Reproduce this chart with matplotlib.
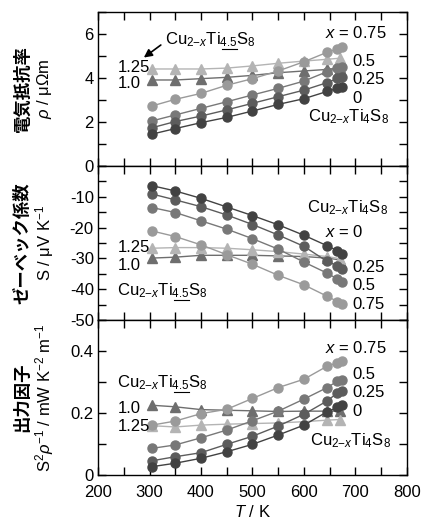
import matplotlib
matplotlib.use('Agg')
import matplotlib.pyplot as plt
from matplotlib.ticker import MultipleLocator
import numpy as np

plt.rcParams['font.family'] = ['Liberation Sans', 'DejaVu Sans']
plt.rcParams['mathtext.fontset'] = 'custom'
plt.rcParams['mathtext.rm'] = 'Liberation Sans'
plt.rcParams['mathtext.it'] = 'Liberation Sans:italic'
plt.rcParams['mathtext.bf'] = 'Liberation Sans:bold'
plt.rcParams['axes.unicode_minus'] = False

# temperatures (K)
T_circ = [305, 350, 400, 450, 500, 550, 600, 645, 665, 673]
T_tri = [305, 350, 400, 450, 500, 550, 600, 645, 670]

# Cu2-xTi4S8, x = 0, 0.25, 0.5, 0.75
circ_x = ['0', '0.25', '0.5', '0.75']
circ_colors = ['#424242', '#5c5c5c', '#787878', '#9a9a9a']
rho_circ = [
    [1.45, 1.70, 1.97, 2.21, 2.50, 2.80, 3.06, 3.39, 3.53, 3.58],
    [1.74, 2.02, 2.27, 2.55, 2.85, 3.15, 3.45, 3.79, 3.98, 4.03],
    [2.05, 2.32, 2.62, 2.92, 3.23, 3.53, 3.86, 4.29, 4.44, 4.52],
    [2.73, 3.03, 3.30, 3.67, 3.97, 4.32, 4.74, 5.17, 5.32, 5.42],
]
S_circ = [
    [-6.4, -8.1, -10.5, -13.3, -16.1, -19.1, -22.5, -25.9, -27.5, -28.6],
    [-9.1, -11.0, -13.2, -15.9, -19.0, -22.4, -26.1, -31.0, -32.4, -33.5],
    [-13.5, -15.1, -17.8, -20.5, -23.6, -27.0, -31.2, -34.8, -36.7, -37.7],
    [-21.1, -22.9, -25.6, -28.8, -31.9, -35.5, -38.6, -42.3, -44.0, -44.8],
]
PF_circ = [
    [0.027, 0.038, 0.054, 0.075, 0.099, 0.129, 0.161, 0.204, 0.218, 0.225],
    [0.046, 0.059, 0.072, 0.099, 0.125, 0.158, 0.196, 0.239, 0.265, 0.270],
    [0.086, 0.097, 0.120, 0.145, 0.175, 0.206, 0.245, 0.282, 0.303, 0.308],
    [0.161, 0.174, 0.198, 0.212, 0.247, 0.282, 0.309, 0.351, 0.362, 0.368],
]

# Cu2-xTi4.5S8, x = 1.0, 1.25
tri_x = ['1.0', '1.25']
tri_colors = ['#6e6e6e', '#b4b4b4']
rho_tri = [
    [3.91, 3.91, 3.97, 4.03, 4.12, 4.24, 4.32, 4.39, 4.47],
    [4.41, 4.41, 4.41, 4.45, 4.55, 4.67, 4.77, 4.85, 4.90],
]
S_tri = [
    [-29.9, -29.6, -29.0, -29.0, -29.0, -29.2, -29.4, -29.9, -30.5],
    [-26.7, -26.5, -26.5, -26.7, -27.2, -27.8, -28.6, -29.4, -30.1],
]
PF_tri = [
    [0.225, 0.220, 0.211, 0.209, 0.207, 0.205, 0.206, 0.206, 0.206],
    [0.159, 0.155, 0.161, 0.164, 0.166, 0.168, 0.172, 0.177, 0.179],
]

jp_labels = ['電気抵抗率', 'ゼーベック係数', '出力因子']
unit_labels = [r'$\rho$ / μΩm', r'S / μV K$^{-1}$', r'S$^{2}\rho^{-1}$ / mW K$^{-2}$ m$^{-1}$']

PRE = r'Cu$_{2\mathrm{-}x}$Ti'
TI4 = PRE + r'$_{4}$S$_{8}$'
TI45 = PRE + r'$_{4.5}$S$_{8}$'
FS = 12

fig = plt.figure(figsize=(4.25, 5.22), dpi=100)
L, R = 0.2306, 0.9576
bounds = [(0.682, 0.977), (0.387, 0.682), (0.090, 0.387)]
axes = [fig.add_axes([L, b, R - L, t - b]) for b, t in bounds]

panel_data = [(rho_circ, rho_tri), (S_circ, S_tri), (PF_circ, PF_tri)]
ylims = [(0, 7), (-50, 0), (0, 0.5)]
ymaj = [2, 10, 0.2]
ymin = [1, 5, 0.1]

for i, ax in enumerate(axes):
    circ, tri = panel_data[i]
    for vals, col in zip(tri, tri_colors):
        ax.plot(T_tri, vals, '-^', color=col, mec=col, mfc=col, ms=6.5, lw=1.0)
    for vals, col in zip(circ[::-1], circ_colors[::-1]):
        ax.plot(T_circ, vals, '-o', color=col, mec=col, mfc=col, ms=6.5, lw=1.0)
    ax.set_xlim(200, 800)
    ax.set_ylim(*ylims[i])
    ax.xaxis.set_major_locator(MultipleLocator(100))
    ax.xaxis.set_minor_locator(MultipleLocator(50))
    ax.yaxis.set_major_locator(MultipleLocator(ymaj[i]))
    ax.yaxis.set_minor_locator(MultipleLocator(ymin[i]))
    ax.tick_params(which='both', direction='in', top=True, right=True, labelsize=FS, width=1.0)
    ax.tick_params(which='both', length=5.5)
    ax.tick_params(axis='y', pad=3)
    for sp in ax.spines.values():
        sp.set_linewidth(1.0)
    if i < 2:
        ax.tick_params(labelbottom=False)
    ax.text(-0.245, 0.5, jp_labels[i], transform=ax.transAxes, rotation=90,
            ha='center', va='center', fontsize=12.5, fontweight='bold',
            family=['Noto Sans CJK JP', 'DejaVu Sans'])
    ax.text(-0.172, 0.5, unit_labels[i], transform=ax.transAxes, rotation=90,
            ha='center', va='center', fontsize=FS)

axes[1].set_yticks([0, -10, -20, -30, -40, -50])
axes[1].set_yticklabels(['', '-10', '-20', '-30', '-40', '-50'])
axes[2].set_yticks([0, 0.2, 0.4])
axes[2].set_yticklabels(['0', '0.2', '0.4'])
axes[2].tick_params(axis='x', pad=7)
axes[2].set_xlabel(r'$T$ / K', fontsize=FS, labelpad=3)

ax1, ax2, ax3 = axes
t45 = []
# panel 1
ax1.text(641, 6.05, r'$x$ = 0.75', fontsize=FS, va='center')
ax1.text(693, 4.73, '0.5', fontsize=FS, va='center')
ax1.text(693, 3.91, '0.25', fontsize=FS, va='center')
ax1.text(693, 3.09, '0', fontsize=FS, va='center')
ax1.text(608, 2.23, TI4, fontsize=FS, va='center')
t45.append((ax1, 330, 5.73))
ax1.text(239, 4.5, '1.25', fontsize=FS, va='center')
ax1.text(239, 3.73, '1.0', fontsize=FS, va='center')
ax1.annotate('', xy=(289, 4.93), xytext=(322, 5.5),
             arrowprops=dict(arrowstyle='-|>', color='black', lw=1.2,
                             mutation_scale=12, shrinkA=0, shrinkB=0))
# panel 2
ax2.text(606, -13.6, TI4, fontsize=FS, va='center')
ax2.text(641, -21.4, r'$x$ = 0', fontsize=FS, va='center')
ax2.text(239, -26.5, '1.25', fontsize=FS, va='center')
ax2.text(239, -32.4, '1.0', fontsize=FS, va='center')
t45.append((ax2, 237, -40.5))
ax2.text(693, -33.0, '0.25', fontsize=FS, va='center')
ax2.text(693, -38.8, '0.5', fontsize=FS, va='center')
ax2.text(693, -45.0, '0.75', fontsize=FS, va='center')
# panel 3
ax3.text(641, 0.41, r'$x$ = 0.75', fontsize=FS, va='center')
ax3.text(693, 0.323, '0.5', fontsize=FS, va='center')
ax3.text(693, 0.265, '0.25', fontsize=FS, va='center')
ax3.text(693, 0.206, '0', fontsize=FS, va='center')
ax3.text(612, 0.11, TI4, fontsize=FS, va='center')
t45.append((ax3, 237, 0.297))
ax3.text(239, 0.216, '1.0', fontsize=FS, va='center')
ax3.text(239, 0.155, '1.25', fontsize=FS, va='center')

# Cu2-xTi4.5S8 labels with the "4.5" underlined
fig.canvas.draw()
rend = fig.canvas.get_renderer()
for ax, xt, yt in t45:
    full = ax.text(xt, yt, TI45, fontsize=FS, va='center')
    pre = ax.text(xt, yt, PRE, fontsize=FS, va='center', color='none')
    sub = ax.text(xt, yt, PRE + r'$_{4.5}$', fontsize=FS, va='center', color='none')
    e_full = full.get_window_extent(rend)
    e_pre = pre.get_window_extent(rend)
    e_sub = sub.get_window_extent(rend)
    x0 = (e_pre.x1 + 1) / fig.bbox.width
    x1 = (e_sub.x1 - 0.5) / fig.bbox.width
    y = (e_full.y0 + 0.5) / fig.bbox.height
    pre.remove()
    sub.remove()
    fig.add_artist(plt.Line2D([x0, x1], [y, y], color='black', lw=0.8,
                              transform=fig.transFigure))

fig.savefig('out.png', dpi=100)
